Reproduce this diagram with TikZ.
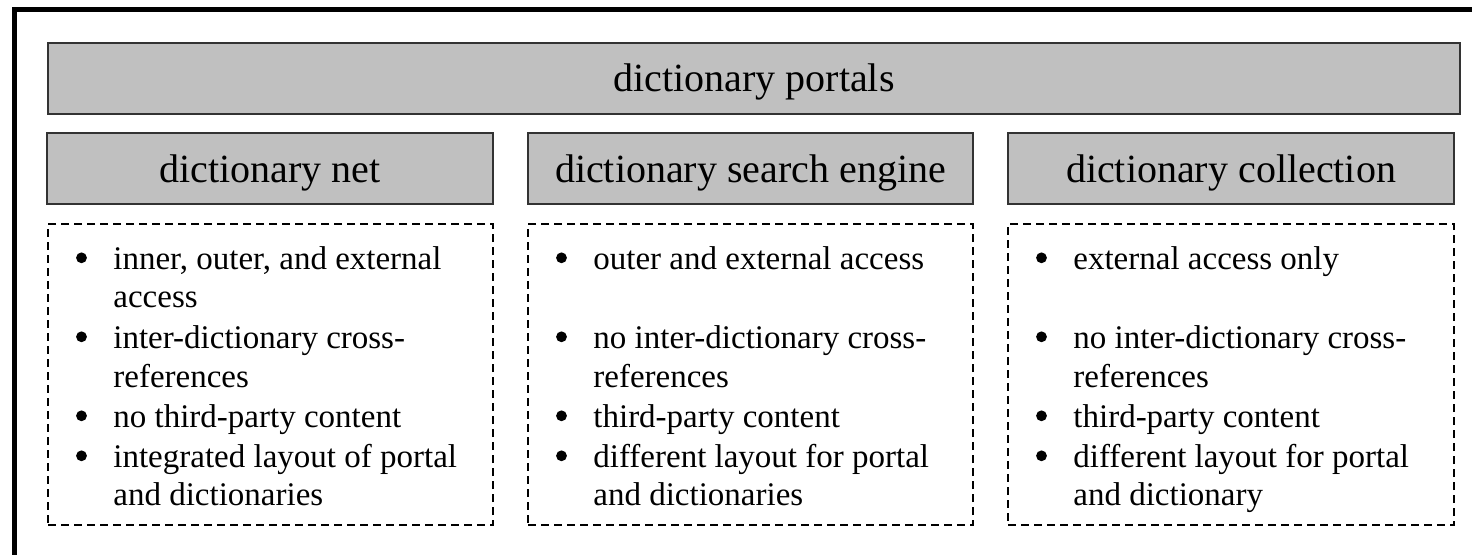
\documentclass[tikz,border=0pt]{standalone}
\usepackage{fontspec}
\setmainfont{Liberation Serif}
\usetikzlibrary{positioning}

\definecolor{boxgrey}{rgb}{0.752941, 0.752941, 0.752941}
\definecolor{boxline}{rgb}{0.200000, 0.200000, 0.200000}

\tikzset{
  greybox/.style={draw=boxline, fill=boxgrey, line width=1pt, inner sep=0pt,
    font=\fontsize{20}{24}\selectfont, text height=13pt, text depth=0pt},
  listbox/.style={draw=black, line width=1pt, dash pattern=on 4pt off 2.5pt,
    minimum height=150.5pt, inner sep=0pt},
  item/.style={anchor=base west, inner sep=0pt, font=\fontsize{16.5}{19.8}\selectfont},
  dot/.style={circle, fill=black, draw=none, inner sep=0pt, minimum size=5.4pt},
  bulitem/.style={item, append after command={
    node[dot] at ([shift={(-15.75pt,5.6pt)}]\tikzlastnode.base west) {}}}
}

\begin{document}
\begin{tikzpicture}[x=0.5pt, y=-0.5pt]
\useasboundingbox (0,0) rectangle (1472,554);
\clip (0,0) rectangle (1472,554);
% outer frame
\draw[line width=2.8pt] (14.5,9.5) rectangle (1500,600);

% headings
\node[greybox, minimum width=706pt, minimum height=35.5pt] (portals) at (754,78.5) {dictionary portals};
\node[greybox, minimum width=223pt, minimum height=35.5pt, text height=14pt] (netHead) at (270,168.5) {dictionary net};
\node[greybox, minimum width=222.5pt, minimum height=35.5pt, text height=14pt] (engineHead) at (750.5,168.5) {dictionary search engine};
\node[greybox, minimum width=223pt, minimum height=35.5pt, text height=14pt] (collHead) at (1231,168.5) {dictionary collection};

% dashed lists
\node[listbox, minimum width=222.5pt] (netList) at (270.5,374.5) {};
\node[listbox, minimum width=222.5pt] (engineList) at (750.5,374.5) {};
\node[listbox, minimum width=223pt] (collList) at (1231,374.5) {};

% dictionary net
\node[bulitem] (net1) at (113,269) {inner, outer, and external};
\node[item] (net2) at (113,307) {access};
\node[bulitem] (net3) at (113,348) {inter-dictionary cross-};
\node[item] (net4) at (113,387) {references};
\node[bulitem] (net5) at (113,427) {no third-party content};
\node[bulitem] (net6) at (113,467) {integrated layout of portal};
\node[item] (net7) at (113,505) {and dictionaries};

% dictionary search engine
\node[bulitem] (engine1) at (593,269) {outer and external access};
\node[bulitem] (engine3) at (593,348) {no inter-dictionary cross-};
\node[item] (engine4) at (593,387) {references};
\node[bulitem] (engine5) at (593,427) {third-party content};
\node[bulitem] (engine6) at (593,467) {different layout for portal};
\node[item] (engine7) at (593,505) {and dictionaries};

% dictionary collection
\node[bulitem] (coll1) at (1073,269) {external access only};
\node[bulitem] (coll3) at (1073,348) {no inter-dictionary cross-};
\node[item] (coll4) at (1073,387) {references};
\node[bulitem] (coll5) at (1073,427) {third-party content};
\node[bulitem] (coll6) at (1073,467) {different layout for portal};
\node[item] (coll7) at (1073,505) {and dictionary};
\end{tikzpicture}
\end{document}
